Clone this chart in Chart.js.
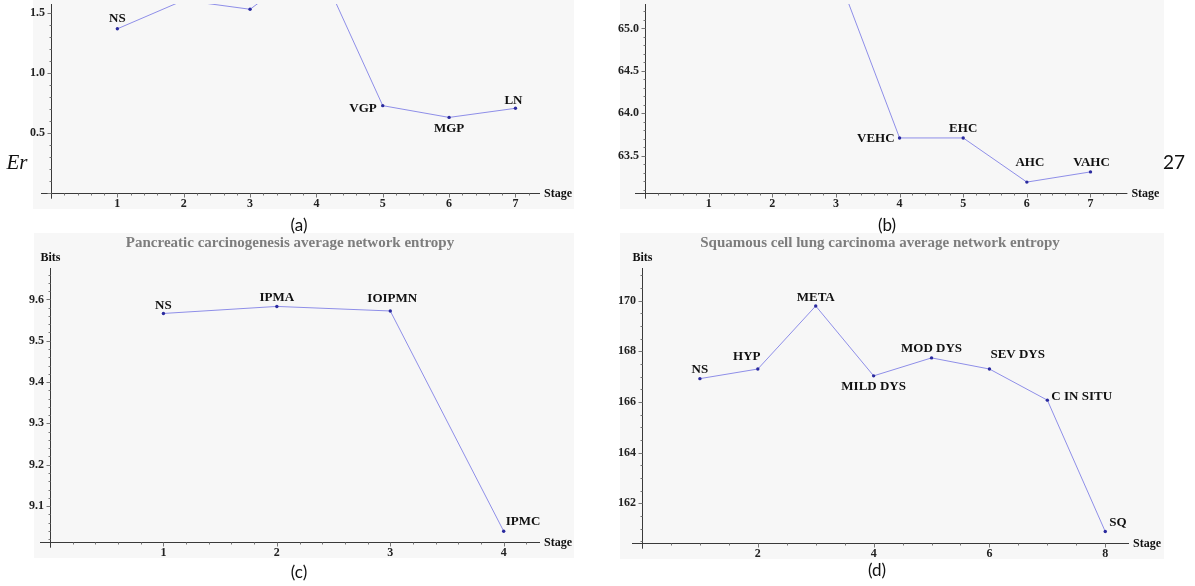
<!DOCTYPE html>
<html>
<head>
<meta charset="utf-8">
<script src="https://cdn.jsdelivr.net/npm/chart.js@4.4.1/dist/chart.umd.min.js"></script>
<style>
  body { margin: 0; width: 1195px; height: 586px; overflow: hidden; background: #fff; position: relative; }
  .panel { position: absolute; background: #f7f7f7; }
  canvas { position: absolute; }
  .cap { position: absolute; transform: translate(-50%, -50%); font-family: Lato, "Open Sans", sans-serif; font-size: 17px; color: #111; white-space: nowrap; }
</style>
</head>
<body>
<div class="panel" style="left:33px;top:0;width:541px;height:209px"></div>
<div class="panel" style="left:620px;top:0;width:544px;height:209px"></div>
<div class="panel" style="left:34px;top:233px;width:540px;height:325px"></div>
<div class="panel" style="left:620px;top:233px;width:544px;height:326px"></div>

<canvas id="chartA" width="580" height="209" style="left:0;top:0"></canvas>
<canvas id="chartB" width="598" height="209" style="left:597px;top:0"></canvas>
<canvas id="chartC" width="580" height="330" style="left:0;top:233px"></canvas>
<canvas id="chartD" width="598" height="330" style="left:597px;top:233px"></canvas>

<div class="cap" style="left:299px;top:224px">(a)</div>
<div class="cap" style="left:887px;top:224px">(b)</div>
<div class="cap" style="left:299px;top:571px">(c)</div>
<div class="cap" style="left:877px;top:569px">(d)</div>
<div class="cap" style="left:17px;top:162px;font-family:'Liberation Serif',serif;font-style:italic;font-size:21px">Er</div>
<div class="cap" style="left:1174px;top:161px;font-size:19px">27</div>

<script>
// (a) top-left panel, upper part cropped
const stagesA = [1, 2, 3, 4, 5, 6, 7];
const valuesA = [1.367, 1.605, 1.530, 1.94, 0.726, 0.628, 0.704];
const namesA = ['NS', '', '', '', 'VGP', 'MGP', 'LN'];

// (b) top-right panel, upper part cropped
const stagesB = [1, 2, 3, 4, 5, 6, 7];
const valuesB = [65.95, 66.05, 65.69, 63.71, 63.71, 63.19, 63.31];
const namesB = ['', '', '', 'VEHC', 'EHC', 'AHC', 'VAHC'];

// (c) pancreatic carcinogenesis
const stagesC = [1, 2, 3, 4];
const valuesC = [9.566, 9.583, 9.572, 9.039];
const namesC = ['NS', 'IPMA', 'IOIPMN', 'IPMC'];

// (d) squamous cell lung carcinoma
const stagesD = [1, 2, 3, 4, 5, 6, 7, 8];
const valuesD = [166.92, 167.30, 169.79, 167.03, 167.74, 167.30, 166.07, 160.88];
const namesD = ['NS', 'HYP', 'META', 'MILD DYS', 'MOD DYS', 'SEV DYS', 'C IN SITU', 'SQ'];

const serif = '"Liberation Serif", "Times New Roman", serif';
const tickFont = { family: serif, weight: 'bold', size: 12 };

// Draws Mathematica-like axes, minor ticks, axis names and the point labels
function axesPlugin(cfg) {
    return {
        id: 'mathAxes',
        afterDraw(chart) {
            const { ctx, chartArea: a, scales: { x, y } } = chart;
            const y0 = Math.round(a.bottom) + 0.5;
            const x0 = Math.round(a.left) + 0.5;
            ctx.save();
            ctx.strokeStyle = '#3a3a3a';
            ctx.lineWidth = 1;
            ctx.beginPath();
            ctx.moveTo(a.left - 10, y0); ctx.lineTo(a.right, y0);
            ctx.moveTo(x0, a.top); ctx.lineTo(x0, a.bottom + 6);
            ctx.stroke();

            // ticks point outward: down on x, left on y
            ctx.strokeStyle = '#777';
            ctx.beginPath();
            for (let v = cfg.xMinor; v <= x.max + 1e-9; v += cfg.xMinor) {
                const px = Math.round(x.getPixelForValue(v)) + 0.5;
                const major = Math.abs(v / cfg.xStep - Math.round(v / cfg.xStep)) < 1e-6;
                ctx.moveTo(px, y0); ctx.lineTo(px, y0 + (major ? 4 : 2));
            }
            const start = Math.ceil(y.min / cfg.yMinor - 1e-6) * cfg.yMinor;
            for (let v = start; v <= y.max + 1e-9; v += cfg.yMinor) {
                const py = Math.round(y.getPixelForValue(v)) + 0.5;
                const major = Math.abs(v / cfg.yStep - Math.round(v / cfg.yStep)) < 1e-6;
                ctx.moveTo(x0, py); ctx.lineTo(x0 - (major ? 4 : 2), py);
            }
            ctx.stroke();

            ctx.fillStyle = '#111';
            ctx.font = 'bold 12px ' + serif;
            ctx.textBaseline = 'middle';
            ctx.textAlign = 'left';
            ctx.fillText('Stage', a.right + 4, y0);
            if (cfg.title) {
                ctx.textAlign = 'center';
                ctx.fillText('Bits', x0, a.top - 10);
                ctx.fillStyle = '#7d7d7d';
                ctx.font = 'bold 15px ' + serif;
                ctx.fillText(cfg.title, cfg.titleX, a.top - 25);
            }

            ctx.fillStyle = '#111';
            ctx.font = 'bold 13px ' + serif;
            cfg.names.forEach((t, i) => {
                if (!t) return;
                const [dx, dy, al] = cfg.labelPos[i];
                ctx.textAlign = al;
                ctx.fillText(t, x.getPixelForValue(cfg.stages[i]) + dx, y.getPixelForValue(cfg.values[i]) + dy);
            });
            ctx.restore();
        }
    };
}

function makeChart(id, cfg) {
    return new Chart(document.getElementById(id), {
        type: 'line',
        data: {
            datasets: [{
                data: cfg.stages.map((s, i) => ({ x: s, y: cfg.values[i] })),
                borderColor: '#8e8ee8',
                borderWidth: 1,
                pointRadius: 1.7,
                pointBackgroundColor: '#2a2a9e',
                pointBorderWidth: 0,
                tension: 0
            }]
        },
        options: {
            responsive: false,
            animation: false,
            events: [],
            layout: { padding: { top: cfg.padTop, right: cfg.padRight, left: 0, bottom: 0 } },
            plugins: { legend: { display: false }, tooltip: { enabled: false } },
            scales: {
                x: {
                    type: 'linear', min: 0, max: cfg.xMax,
                    afterFit: s => { s.height = cfg.xHeight; s.paddingLeft = 0; s.paddingRight = 0; },
                    grid: { display: false, drawTicks: false },
                    border: { display: false },
                    ticks: {
                        stepSize: cfg.xStep, includeBounds: false, autoSkip: false, maxRotation: 0,
                        padding: 4, color: '#222', font: tickFont,
                        callback: v => v === 0 ? '' : String(v)
                    }
                },
                y: {
                    type: 'linear', min: cfg.yMin, max: cfg.yMax,
                    afterFit: s => { s.width = cfg.yWidth; s.paddingTop = 0; s.paddingBottom = 0; },
                    grid: { display: false, drawTicks: false },
                    border: { display: false },
                    ticks: {
                        stepSize: cfg.yStep, includeBounds: false, autoSkip: false,
                        padding: 6, color: '#222', font: tickFont,
                        callback: v => v === 0 ? '' : v.toFixed(cfg.yDec)
                    }
                }
            }
        },
        plugins: [axesPlugin(cfg)]
    });
}

makeChart('chartA', {
    stages: stagesA, values: valuesA, names: namesA,
    labelPos: [[0, -10, 'center'], [0, 0, 'center'], [0, 0, 'center'], [0, 0, 'center'],
               [-6, 3, 'right'], [0, 11, 'center'], [-2, -8, 'center']],
    xMax: 7.37, xStep: 1, xMinor: 0.2,
    yMin: 0, yMax: 1.574, yStep: 0.5, yMinor: 0.1, yDec: 1,
    yWidth: 51, xHeight: 16.3, padTop: 0, padRight: 40
});

makeChart('chartB', {
    stages: stagesB, values: valuesB, names: namesB,
    labelPos: [[0, 0, 'center'], [0, 0, 'center'], [0, 0, 'center'], [-5, 1, 'right'],
               [0, -9, 'center'], [3, -19, 'center'], [1, -9, 'center']],
    xMax: 7.58, xStep: 1, xMinor: 0.2,
    yMin: 63.065, yMax: 65.288, yStep: 0.5, yMinor: 0.1, yDec: 1,
    yWidth: 48, xHeight: 16.3, padTop: 0, padRight: 67.6
});

makeChart('chartC', {
    stages: stagesC, values: valuesC, names: namesC,
    labelPos: [[0, -8, 'center'], [0, -9, 'center'], [2, -12, 'center'], [2, -10, 'left']],
    title: 'Pancreatic carcinogenesis average network entropy', titleX: 290,
    xMax: 4.32, xStep: 1, xMinor: 0.2,
    yMin: 9.0137, yMax: 9.676, yStep: 0.1, yMinor: 0.02, yDec: 1,
    yWidth: 50, xHeight: 21.3, padTop: 35, padRight: 40
});

makeChart('chartD', {
    stages: stagesD, values: valuesD, names: namesD,
    labelPos: [[0, -9, 'center'], [-11, -12, 'center'], [0, -8, 'center'], [0, 11, 'center'],
               [0, -9, 'center'], [1, -14, 'left'], [4, -4, 'left'], [4, -9, 'left']],
    title: 'Squamous cell lung carcinoma average network entropy', titleX: 283,
    xMax: 8.41, xStep: 2, xMinor: 0.5,
    yMin: 160.44, yMax: 171.29, yStep: 2, yMinor: 0.5, yDec: 0,
    yWidth: 45, xHeight: 20.3, padTop: 35, padRight: 66
});
</script>
</body>
</html>
